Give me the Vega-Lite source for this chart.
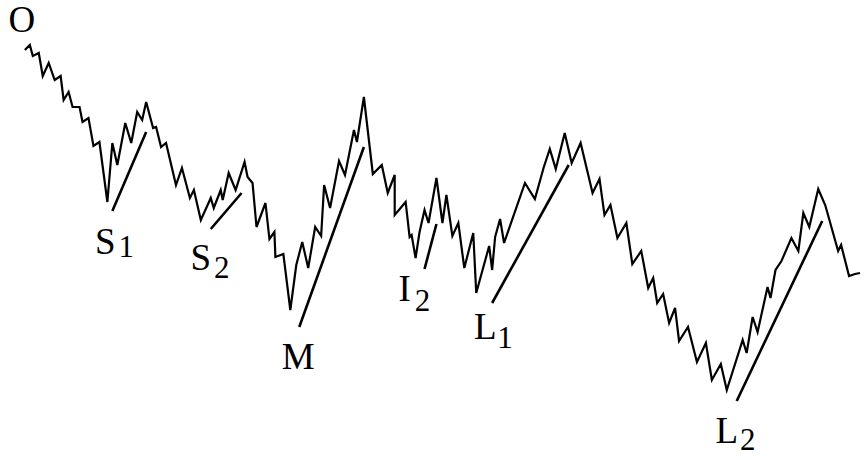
{
  "$schema": "https://vega.github.io/schema/vega-lite/v6.json",
  "width": 865,
  "height": 460,
  "autosize": {"type": "fit", "contains": "padding"},
  "padding": 0,
  "background": "white",
  "config": {"view": {"stroke": null}},
  "datasets": {
    "path": [
      {"i":1,"t":25,"level":410},{"i":2,"t":30,"level":415},{"i":3,"t":33,"level":404},{"i":4,"t":39,"level":407},
      {"i":5,"t":43,"level":384},{"i":6,"t":49,"level":397},{"i":7,"t":55,"level":380},{"i":8,"t":61,"level":384},
      {"i":9,"t":64,"level":360},{"i":10,"t":69,"level":368},{"i":11,"t":73,"level":353},{"i":12,"t":80,"level":353},
      {"i":13,"t":83,"level":338},{"i":14,"t":89,"level":342},{"i":15,"t":94,"level":314},{"i":16,"t":100,"level":318},
      {"i":17,"t":108,"level":258},{"i":18,"t":113,"level":317},{"i":19,"t":118,"level":295},{"i":20,"t":126,"level":337},
      {"i":21,"t":132,"level":317},{"i":22,"t":138,"level":348},{"i":23,"t":143,"level":340},{"i":24,"t":147,"level":358},
      {"i":25,"t":154,"level":332},{"i":26,"t":157,"level":333},{"i":27,"t":162,"level":313},{"i":28,"t":167,"level":317},
      {"i":29,"t":177,"level":275},{"i":30,"t":183,"level":292},{"i":31,"t":191,"level":262},{"i":32,"t":195,"level":270},
      {"i":33,"t":202,"level":240},{"i":34,"t":212,"level":262},{"i":35,"t":215,"level":252},{"i":36,"t":222,"level":270},
      {"i":37,"t":224,"level":260},{"i":38,"t":230,"level":287},{"i":39,"t":237,"level":270},{"i":40,"t":246,"level":298},
      {"i":41,"t":249,"level":283},{"i":42,"t":254,"level":277},{"i":43,"t":258,"level":233},{"i":44,"t":267,"level":257},
      {"i":45,"t":271,"level":221},{"i":46,"t":276,"level":228},{"i":47,"t":277,"level":203},{"i":48,"t":285,"level":206},
      {"i":49,"t":292,"level":150},{"i":50,"t":298,"level":195},{"i":51,"t":304,"level":218},{"i":52,"t":310,"level":192},
      {"i":53,"t":317,"level":233},{"i":54,"t":323,"level":224},{"i":55,"t":326,"level":275},{"i":56,"t":332,"level":252},
      {"i":57,"t":341,"level":299},{"i":58,"t":347,"level":285},{"i":59,"t":356,"level":330},{"i":60,"t":359,"level":318},
      {"i":61,"t":366,"level":363},{"i":62,"t":375,"level":286},{"i":63,"t":384,"level":295},{"i":64,"t":390,"level":267},
      {"i":65,"t":397,"level":285},{"i":66,"t":397,"level":245},{"i":67,"t":408,"level":258},{"i":68,"t":412,"level":223},
      {"i":69,"t":414,"level":225},{"i":70,"t":418,"level":202},{"i":71,"t":422,"level":228},{"i":72,"t":427,"level":250},
      {"i":73,"t":431,"level":237},{"i":74,"t":439,"level":282},{"i":75,"t":445,"level":237},{"i":76,"t":449,"level":265},
      {"i":77,"t":455,"level":224},{"i":78,"t":461,"level":237},{"i":79,"t":467,"level":192},{"i":80,"t":476,"level":227},
      {"i":81,"t":479,"level":167},{"i":82,"t":492,"level":214},{"i":83,"t":495,"level":190},{"i":84,"t":498,"level":223},
      {"i":85,"t":503,"level":241},{"i":86,"t":507,"level":217},{"i":87,"t":528,"level":277},{"i":88,"t":538,"level":261},
      {"i":89,"t":547,"level":293},{"i":90,"t":553,"level":311},{"i":91,"t":559,"level":291},{"i":92,"t":568,"level":327},
      {"i":93,"t":575,"level":297},{"i":94,"t":584,"level":317},{"i":95,"t":596,"level":267},{"i":96,"t":603,"level":281},
      {"i":97,"t":608,"level":245},{"i":98,"t":614,"level":255},{"i":99,"t":621,"level":222},{"i":100,"t":630,"level":237},
      {"i":101,"t":636,"level":196},{"i":102,"t":645,"level":209},{"i":103,"t":652,"level":172},{"i":104,"t":657,"level":182},
      {"i":105,"t":661,"level":157},{"i":106,"t":667,"level":166},{"i":107,"t":673,"level":137},{"i":108,"t":679,"level":152},
      {"i":109,"t":683,"level":119},{"i":110,"t":692,"level":133},{"i":111,"t":701,"level":98},{"i":112,"t":710,"level":117},
      {"i":113,"t":716,"level":80},{"i":114,"t":725,"level":96},{"i":115,"t":731,"level":70},{"i":116,"t":747,"level":120},
      {"i":117,"t":751,"level":107},{"i":118,"t":757,"level":143},{"i":119,"t":762,"level":128},{"i":120,"t":772,"level":173},
      {"i":121,"t":775,"level":162},{"i":122,"t":780,"level":190},{"i":123,"t":786,"level":199},{"i":124,"t":796,"level":222},
      {"i":125,"t":803,"level":209},{"i":126,"t":808,"level":247},{"i":127,"t":814,"level":233},{"i":128,"t":823,"level":271},
      {"i":129,"t":830,"level":255},{"i":130,"t":843,"level":209},{"i":131,"t":846,"level":215},{"i":132,"t":854,"level":184},
      {"i":133,"t":860,"level":186},{"i":134,"t":865,"level":187}
    ],
    "trend": [
      {"seg":"S1","t0":113,"l0":249,"t1":147,"l1":328},
      {"seg":"S2","t0":212,"l0":231,"t1":243,"l1":267},
      {"seg":"M","t0":301,"l0":133,"t1":366,"l1":313},
      {"seg":"I2","t0":427,"l0":191,"t1":439,"l1":236},
      {"seg":"L1","t0":495,"l0":157,"t1":572,"l1":295},
      {"seg":"L2","t0":741,"l0":59,"t1":827,"l1":239}
    ],
    "labels": [
      {"role":"main","text":"O","t":22,"level":439},
      {"role":"main","text":"S","t":106,"level":217},
      {"role":"sub","text":"1","t":127,"level":212},
      {"role":"main","text":"S","t":202,"level":201},
      {"role":"sub","text":"2","t":223,"level":191},
      {"role":"main","text":"M","t":300,"level":102},
      {"role":"main","text":"I","t":407,"level":170},
      {"role":"sub","text":"2","t":425,"level":158},
      {"role":"main","text":"L","t":488,"level":132},
      {"role":"sub","text":"1","t":508,"level":121},
      {"role":"main","text":"L","t":731,"level":28},
      {"role":"sub","text":"2","t":752,"level":19}
    ]
  },
  "layer": [
    {
      "data": {"name": "path"},
      "mark": {"type": "line", "color": "black", "strokeWidth": 2.2, "strokeJoin": "miter"},
      "encoding": {
        "x": {"field": "t", "type": "quantitative", "scale": {"domain": [0, 865]}, "axis": null},
        "y": {"field": "level", "type": "quantitative", "scale": {"domain": [0, 460]}, "axis": null},
        "order": {"field": "i", "type": "quantitative"}
      }
    },
    {
      "data": {"name": "trend"},
      "mark": {"type": "rule", "color": "black", "strokeWidth": 2.6},
      "encoding": {
        "x": {"field": "t0", "type": "quantitative", "scale": {"domain": [0, 865]}, "axis": null},
        "y": {"field": "l0", "type": "quantitative", "scale": {"domain": [0, 460]}, "axis": null},
        "x2": {"field": "t1"},
        "y2": {"field": "l1"}
      }
    },
    {
      "data": {"name": "labels"},
      "transform": [{"filter": "datum.role === 'main'"}],
      "mark": {"type": "text", "font": "Liberation Serif", "fontSize": 37, "color": "black", "align": "center", "baseline": "middle"},
      "encoding": {
        "x": {"field": "t", "type": "quantitative", "scale": {"domain": [0, 865]}, "axis": null},
        "y": {"field": "level", "type": "quantitative", "scale": {"domain": [0, 460]}, "axis": null},
        "text": {"field": "text"}
      }
    },
    {
      "data": {"name": "labels"},
      "transform": [{"filter": "datum.role === 'sub'"}],
      "mark": {"type": "text", "font": "Liberation Serif", "fontSize": 31, "color": "black", "align": "center", "baseline": "middle"},
      "encoding": {
        "x": {"field": "t", "type": "quantitative", "scale": {"domain": [0, 865]}, "axis": null},
        "y": {"field": "level", "type": "quantitative", "scale": {"domain": [0, 460]}, "axis": null},
        "text": {"field": "text"}
      }
    }
  ]
}
